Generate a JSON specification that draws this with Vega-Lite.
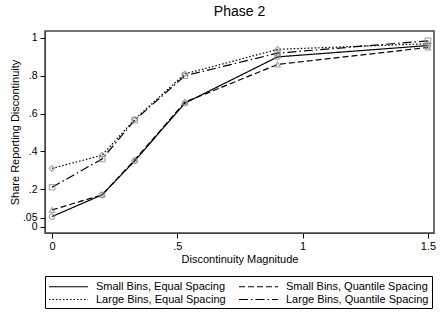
{
"$schema": "https://vega.github.io/schema/vega-lite/v6.json",
"width": 389,
"height": 202,
"padding": {"left": 9, "top": 5, "right": 5, "bottom": 3},
"title": {"text": "Phase 2", "fontSize": 14, "font": "Liberation Sans", "fontWeight": "normal", "color": "#000", "offset": 12},
"config": {
  "font": "Liberation Sans",
  "view": {"stroke": "#444", "strokeWidth": 1.5},
  "axis": {"labelFont": "Liberation Sans", "titleFont": "Liberation Sans", "labelFontSize": 11, "titleFontSize": 11, "titleFontWeight": "normal", "labelColor": "#000", "titleColor": "#000", "tickColor": "#000", "domainColor": "#444", "grid": false, "tickSize": 5}
},
"data": {"values": [
  {"series": "Small Bins, Equal Spacing", "x": 0, "y": 0.055},
  {"series": "Small Bins, Equal Spacing", "x": 0.2, "y": 0.17},
  {"series": "Small Bins, Equal Spacing", "x": 0.33, "y": 0.35},
  {"series": "Small Bins, Equal Spacing", "x": 0.53, "y": 0.655},
  {"series": "Small Bins, Equal Spacing", "x": 0.9, "y": 0.9},
  {"series": "Small Bins, Equal Spacing", "x": 1.5, "y": 0.96},
  {"series": "Small Bins, Quantile Spacing", "x": 0, "y": 0.09},
  {"series": "Small Bins, Quantile Spacing", "x": 0.2, "y": 0.17},
  {"series": "Small Bins, Quantile Spacing", "x": 0.33, "y": 0.355},
  {"series": "Small Bins, Quantile Spacing", "x": 0.53, "y": 0.66},
  {"series": "Small Bins, Quantile Spacing", "x": 0.9, "y": 0.86},
  {"series": "Small Bins, Quantile Spacing", "x": 1.5, "y": 0.95},
  {"series": "Large Bins, Equal Spacing", "x": 0, "y": 0.31},
  {"series": "Large Bins, Equal Spacing", "x": 0.2, "y": 0.38},
  {"series": "Large Bins, Equal Spacing", "x": 0.33, "y": 0.57},
  {"series": "Large Bins, Equal Spacing", "x": 0.53, "y": 0.81},
  {"series": "Large Bins, Equal Spacing", "x": 0.9, "y": 0.94},
  {"series": "Large Bins, Equal Spacing", "x": 1.5, "y": 0.97},
  {"series": "Large Bins, Quantile Spacing", "x": 0, "y": 0.21},
  {"series": "Large Bins, Quantile Spacing", "x": 0.2, "y": 0.36},
  {"series": "Large Bins, Quantile Spacing", "x": 0.33, "y": 0.565},
  {"series": "Large Bins, Quantile Spacing", "x": 0.53, "y": 0.8},
  {"series": "Large Bins, Quantile Spacing", "x": 0.9, "y": 0.92},
  {"series": "Large Bins, Quantile Spacing", "x": 1.5, "y": 0.985}
]},
"encoding": {
  "x": {"field": "x", "type": "quantitative",
    "scale": {"domain": [-0.028, 1.524], "nice": false, "zero": false},
    "axis": {"values": [0, 0.5, 1, 1.5], "labelExpr": "datum.value == 0 ? '0' : datum.value < 1 ? slice(format(datum.value, '~g'), 1) : format(datum.value, '~g')", "title": "Discontinuity Magnitude", "labelPadding": 2, "titlePadding": 2}},
  "y": {"field": "y", "type": "quantitative",
    "scale": {"domain": [-0.032, 1.037], "nice": false, "zero": false},
    "axis": {"values": [0, 0.05, 0.2, 0.4, 0.6, 0.8, 1], "labelOverlap": false, "labelFontSize": 10.5, "labelExpr": "datum.value == 0 ? '0' : datum.value < 1 ? slice(format(datum.value, '~g'), 1) : format(datum.value, '~g')", "title": "Share Reporting Discontinuity", "labelPadding": 3, "titlePadding": 2}}
},
"layer": [
  {"mark": {"type": "line", "color": "#000", "strokeWidth": 1.2},
   "encoding": {"strokeDash": {"field": "series", "type": "nominal",
     "scale": {"domain": ["Small Bins, Equal Spacing", "Small Bins, Quantile Spacing", "Large Bins, Equal Spacing", "Large Bins, Quantile Spacing"], "range": [[1, 0], [6, 3], [1.5, 2], [9, 3, 1.5, 3]]},
     "legend": {"title": null, "orient": "bottom", "columns": 2, "symbolType": "M-1,0H5", "symbolSize": 169, "symbolStrokeWidth": 1.2, "symbolStrokeColor": "#000", "symbolFillColor": "transparent",
       "labelFontSize": 11, "labelFont": "Liberation Sans", "labelColor": "#000", "labelLimit": 300, "labelOffset": 33,
       "strokeColor": "#000", "padding": 3, "columnPadding": 10, "rowPadding": 0, "offset": 12}}}},
  {"transform": [{"filter": "datum.series == 'Small Bins, Equal Spacing'"}],
   "mark": {"type": "point", "shape": "circle", "filled": false, "color": "#888", "size": 30, "strokeWidth": 1.2}},
  {"transform": [{"filter": "datum.series == 'Small Bins, Quantile Spacing'"}],
   "mark": {"type": "point", "shape": "triangle-up", "filled": false, "color": "#888", "size": 30, "strokeWidth": 1.2}},
  {"transform": [{"filter": "datum.series == 'Large Bins, Equal Spacing'"}],
   "mark": {"type": "point", "shape": "diamond", "filled": false, "color": "#888", "size": 30, "strokeWidth": 1.2}},
  {"transform": [{"filter": "datum.series == 'Large Bins, Quantile Spacing'"}],
   "mark": {"type": "point", "shape": "square", "filled": false, "color": "#888", "size": 30, "strokeWidth": 1.2}}
]
}
